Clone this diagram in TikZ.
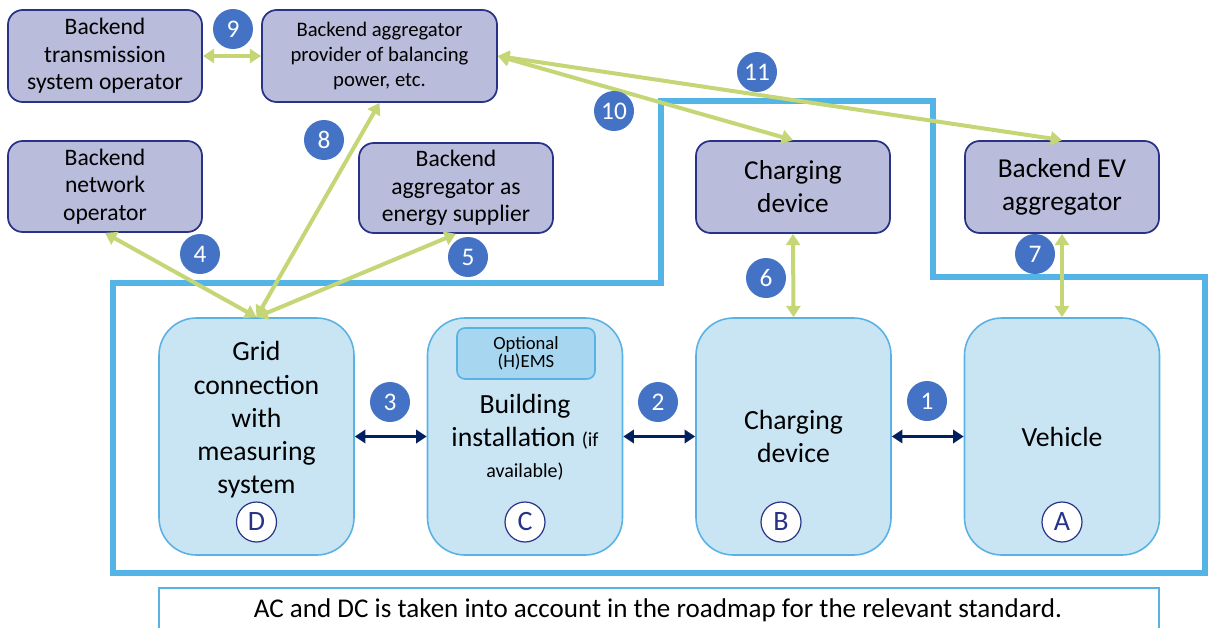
\documentclass[tikz,border=0pt]{standalone}
\usepackage{fontspec}
\setmainfont{Carlito}
\usetikzlibrary{arrows.meta}
\definecolor{lav}{RGB}{185,188,218}
\definecolor{lavb}{RGB}{40,50,135}
\definecolor{lbl}{RGB}{201,229,244}
\definecolor{lblb}{RGB}{90,178,228}
\definecolor{hems}{RGB}{166,214,240}
\definecolor{frame}{RGB}{84,180,230}
\definecolor{numb}{RGB}{68,114,196}
\definecolor{grn}{RGB}{196,214,118}
\definecolor{navy}{RGB}{0,32,96}
\newcommand{\fs}[1]{\fontsize{#1}{1.2\dimexpr#1pt\relax}\selectfont}
\newcommand{\fss}[1]{\fontsize{#1}{1.16\dimexpr#1pt\relax}\selectfont}
\tikzset{
  topbox/.style={draw=lavb, line width=1.3pt, fill=lav, rounded corners=11pt, align=center, inner sep=0pt, minimum width=145.5pt, minimum height=69pt, text=black},
  lowbox/.style={draw=lblb, line width=1.2pt, fill=lbl, rounded corners=28pt, align=center, inner sep=0pt, minimum width=146.25pt, minimum height=177.75pt, text=black},
  hemsbox/.style={draw=lblb, line width=1.2pt, fill=hems, rounded corners=6pt, align=center, inner sep=0pt, minimum width=103.5pt, minimum height=38.25pt, font=\fs{14}, text=black},
  numc/.style={circle, fill=numb, text=white, inner sep=0pt, minimum size=30pt, font=\fs{19}},
  letc/.style={circle, draw=lavb, line width=0.9pt, fill=white, text=lavb, inner sep=0pt, minimum size=30pt, font=\fs{21}},
  garr/.style={draw=grn, line width=3pt, {Triangle[width=10.5pt,length=8.5pt]}-{Triangle[width=10.5pt,length=8.5pt]}},
  narr/.style={draw=navy, line width=2.3pt, {Triangle[width=10pt,length=8pt]}-{Triangle[width=10pt,length=8pt]}},
  frm/.style={draw=frame, line width=3.8pt}
}
\begin{document}
\begin{tikzpicture}[x=0.75pt, y=-0.75pt]
\useasboundingbox (0,0) rectangle (1208,628);
% frame
\draw[frm, line join=miter] (113,283) -- (661,283) -- (661,101) -- (933,101) -- (933,277) -- (1205,277) -- (1205,573) -- (113,573) -- cycle;
% caption box
\draw[draw=lblb, line width=0.8pt] (159,640) -- (159,588) -- (1159,588) -- (1159,640);
\node[font=\fs{20.3}] (cap) at (658,610) {AC and DC is taken into account in the roadmap for the relevant standard.};
% top boxes
\node[topbox, font=\fss{17.7}] (tso) at (105,56) {Backend\\transmission\\system operator};
\node[topbox, font=\fs{15.5}, minimum width=176.25pt] (agp) at (379.5,56) {Backend aggregator\\provider of balancing\\power, etc.};
\node[topbox, font=\fss{17.7}, minimum height=68.25pt] (dso) at (105,186.5) {Backend\\network\\operator};
\node[topbox, font=\fss{17.7}, minimum height=67.5pt] (aes) at (456,188) {Backend\\aggregator as\\energy supplier};
\node[topbox, font=\fs{20.5}] (cdt) at (793,187) {Charging\\device};
\node[topbox, font=\fs{20.5}] (eva) at (1062,187) {Backend EV\\aggregator};
% lower boxes
\node[lowbox] (D) at (256.5,436.5) {};
\node[font=\fs{20.8}, align=center, inner sep=0pt] (Dt) at (256.5,420) {Grid\\connection\\with\\measuring\\system};
\node[lowbox] (C) at (525,436.5) {};
\node[font=\fs{20.8}, align=center, inner sep=0pt] (Ct) at (525,437) {Building\\installation {\fs{15}(if}\\[-2pt]{\fs{15}available)}};
\node[hemsbox] (H) at (526,353.5) {Optional\\[-3pt](H)EMS};
\node[lowbox, font=\fs{20.8}] (B) at (793.5,436.5) {Charging\\device};
\node[lowbox, font=\fs{20.8}] (A) at (1062,436.5) {Vehicle};
% letters
\node[letc] (lD) at (256.5,522) {D};
\node[letc] (lC) at (525,522) {C};
\node[letc] (lB) at (781,522) {B};
\node[letc] (lA) at (1062,522) {A};
% green arrows
\draw[garr] (tso.east) -- (agp.west);
\draw[garr] (D.north) -- (agp.south);
\draw[garr] (D.north) -- (dso.south);
\draw[garr] (D.north) -- (aes.south);
\draw[garr] (agp.east) -- (cdt.north);
\draw[garr] (agp.east) -- (eva.north);
\draw[garr] (cdt.south) -- (B.north);
\draw[garr] (eva.south) -- (A.north);
% navy arrows
\draw[narr] (D.east) -- (C.west);
\draw[narr] (C.east) -- (B.west);
\draw[narr] (B.east) -- (A.west);
% numbers
\node[numc] (n9) at (233,29) {9};
\node[numc] (n8) at (324,140) {8};
\node[numc] (n4) at (200,254) {4};
\node[numc] (n5) at (468,257) {5};
\node[numc] (n10) at (614,111) {10};
\node[numc] (n11) at (757,72) {11};
\node[numc] (n6) at (766,278) {6};
\node[numc] (n7) at (1035,254) {7};
\node[numc] (n3) at (390,402) {3};
\node[numc] (n2) at (658,402) {2};
\node[numc] (n1) at (927,401) {1};
\end{tikzpicture}
\end{document}
